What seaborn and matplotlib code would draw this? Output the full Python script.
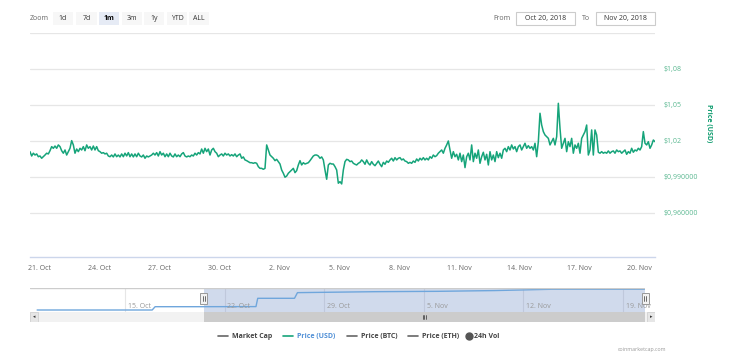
import matplotlib
matplotlib.use("Agg")
import matplotlib.pyplot as plt
import matplotlib.dates as mdates
from matplotlib.lines import Line2D
from matplotlib.patches import Rectangle
import seaborn as sns
import pandas as pd

# Price (USD), one reading every 2 hours from Oct 20 13:00
prices = [
    1.0111, 1.0075, 1.0098, 1.0083, 1.0092, 1.0069, 1.0075, 1.0056, 1.0069, 1.0083, 1.0098, 1.0092,
    1.0119, 1.0153, 1.0139, 1.0158, 1.0139, 1.0167, 1.0153, 1.0119, 1.0098, 1.0125, 1.0083, 1.0111,
    1.0139, 1.0203, 1.0167, 1.0098, 1.0133, 1.0111, 1.0139, 1.0125, 1.0153, 1.0119, 1.0167, 1.0139,
    1.0153, 1.0125, 1.0158, 1.0125, 1.0153, 1.0119, 1.0111, 1.0098, 1.0103, 1.0092, 1.0098, 1.0075,
    1.0069, 1.0083, 1.0067, 1.0092, 1.0069, 1.0083, 1.0067, 1.0092, 1.0069, 1.0098, 1.0075, 1.0103,
    1.0069, 1.0092, 1.0067, 1.0092, 1.0069, 1.0098, 1.0075, 1.0067, 1.0083, 1.0056, 1.0075, 1.0067,
    1.0075, 1.0083, 1.0098, 1.0083, 1.0103, 1.0075, 1.0111, 1.0083, 1.0098, 1.0069, 1.0092, 1.0069,
    1.0098, 1.0075, 1.0067, 1.0092, 1.0069, 1.0083, 1.0069, 1.0092, 1.0103, 1.0075, 1.0067, 1.0075,
    # Oct 28 - Nov 5
    1.0069, 1.0083, 1.0075, 1.0098, 1.0083, 1.0103, 1.0092, 1.0133, 1.0098, 1.0139, 1.0111, 1.0133,
    1.0083, 1.0125, 1.0139, 1.0111, 1.0098, 1.0069, 1.0083, 1.0092, 1.0075, 1.0098, 1.0083, 1.0092,
    1.0075, 1.0086, 1.0075, 1.0092, 1.0069, 1.0083, 1.0092, 1.0056, 1.0067, 1.0042, 1.0036, 1.0028,
    1.0019, 1.0019, 1.0014, 1.0019, 1.0014, 0.9986, 0.9972, 0.9972, 0.9964, 0.9972, 1.0167, 1.0125,
    1.0083, 1.0069, 1.0056, 1.0036, 1.0047, 1.0028, 1.0008, 0.9958, 0.9931, 0.9898, 0.9908, 0.9931,
    0.9944, 0.9958, 0.9972, 0.9936, 0.9953, 1.0000, 1.0036, 1.0000, 1.0019, 1.0008, 1.0014, 1.0019,
    1.0036, 1.0056, 1.0075, 1.0083, 1.0083, 1.0075, 1.0056, 1.0067, 1.0042, 0.9958, 0.9881, 1.0000,
    1.0014, 1.0008, 1.0008, 0.9986, 0.9958, 0.9848, 0.9861, 0.9842, 0.9958, 1.0028, 1.0047,
    # Nov 5 - Nov 13
    1.0042, 1.0028, 1.0033, 1.0014, 1.0006, 1.0000, 1.0014, 1.0022, 1.0042, 1.0028, 1.0006, 1.0042,
    1.0014, 1.0000, 1.0028, 1.0006, 0.9994, 1.0014, 1.0033, 1.0006, 0.9986, 1.0022, 1.0006, 1.0033,
    1.0022, 1.0042, 1.0056, 1.0033, 1.0061, 1.0042, 1.0056, 1.0061, 1.0042, 1.0050, 1.0033, 1.0028,
    1.0014, 1.0022, 1.0014, 1.0033, 1.0022, 1.0050, 1.0033, 1.0056, 1.0042, 1.0061, 1.0042, 1.0056,
    1.0042, 1.0069, 1.0056, 1.0083, 1.0069, 1.0078, 1.0098, 1.0111, 1.0125, 1.0098, 1.0139, 1.0167,
    1.0200, 1.0125, 1.0056, 1.0111, 1.0069, 1.0089, 1.0042, 1.0098, 1.0028, 1.0083, 0.9978, 1.0069,
    1.0098, 1.0042, 1.0167, 1.0028, 1.0098, 1.0056, 1.0125, 1.0014, 1.0069, 1.0106, 1.0042, 1.0089,
    1.0000, 1.0111, 1.0042, 1.0083, 1.0028, 1.0111, 1.0061, 1.0098, 1.0056,
    # Nov 13 - Nov 20
    1.0125, 1.0139, 1.0111, 1.0153, 1.0125, 1.0167, 1.0133, 1.0153, 1.0111, 1.0153, 1.0167, 1.0125,
    1.0153, 1.0181, 1.0139, 1.0161, 1.0139, 1.0153, 1.0125, 1.0181, 1.0069, 1.0194, 1.0431, 1.0333,
    1.0278, 1.0250, 1.0236, 1.0222, 1.0167, 1.0194, 1.0222, 1.0167, 1.0236, 1.0514, 1.0306, 1.0139,
    1.0181, 1.0222, 1.0111, 1.0194, 1.0153, 1.0222, 1.0098, 1.0167, 1.0139, 1.0181, 1.0098, 1.0222,
    1.0250, 1.0278, 1.0333, 1.0083, 1.0125, 1.0292, 1.0083, 1.0292, 1.0250, 1.0106, 1.0098, 1.0111,
    1.0098, 1.0106, 1.0098, 1.0117, 1.0098, 1.0111, 1.0117, 1.0098, 1.0125, 1.0111, 1.0117, 1.0098,
    1.0111, 1.0125, 1.0089, 1.0111, 1.0098, 1.0139, 1.0106, 1.0125, 1.0117, 1.0139, 1.0125, 1.0153,
    1.0278, 1.0181, 1.0167, 1.0194, 1.0139, 1.0167, 1.0208, 1.0194,
]
price_start = "2018-10-20 13:00"

# navigator series (market cap, millions)
nav_dates = ["2018-10-08 20:00", "2018-10-12 00:00", "2018-10-16 22:00", "2018-10-17 03:00",
             "2018-10-20 00:00", "2018-10-24 05:00", "2018-10-24 08:00", "2018-10-26 22:00",
             "2018-10-27 03:00", "2018-11-01 12:00", "2018-11-06 00:00", "2018-11-10 00:00",
             "2018-11-14 00:00", "2018-11-20 12:00"]
nav_values = [130, 130, 130, 147.5, 147.5, 148, 192, 192, 222, 227, 229, 233, 240, 240]

x_tick_dates = ["2018-10-21", "2018-10-24", "2018-10-27", "2018-10-30", "2018-11-02", "2018-11-05",
                "2018-11-08", "2018-11-11", "2018-11-14", "2018-11-17", "2018-11-20"]
x_tick_labels = ["21. Oct", "24. Oct", "27. Oct", "30. Oct", "2. Nov", "5. Nov",
                 "8. Nov", "11. Nov", "14. Nov", "17. Nov", "20. Nov"]
y_ticks = [0.96, 0.99, 1.02, 1.05, 1.08]
y_tick_labels = ["$0,960000", "$0,990000", "$1,02", "$1,05", "$1,08"]

nav_tick_dates = ["2018-10-15", "2018-10-22", "2018-10-29", "2018-11-05", "2018-11-12", "2018-11-19"]
nav_tick_labels = ["15. Oct", "22. Oct", "29. Oct", "5. Nov", "12. Nov", "19. Nov"]
nav_range = ("2018-10-08 08:00", "2018-11-20 13:00")
selected = ("2018-10-20 13:00", "2018-11-20 13:00")

zoom_buttons = ["1d", "7d", "1m", "3m", "1y", "YTD", "ALL"]
legend_items = ["Market Cap", "Price (USD)", "Price (BTC)", "Price (ETH)", "24h Vol"]

W, H = 750, 362
GREEN = "#16a47a"
FS = 5.0


def px(x, y):
    return x / W, 1 - y / H


sns.set_style("white")
plt.rcParams["font.family"] = ["Open Sans", "DejaVu Sans"]

fig = plt.figure(figsize=(W / 100, H / 100), dpi=100)

# ---- main price chart
df = pd.DataFrame({"time": pd.date_range(price_start, periods=len(prices), freq="2h"),
                   "price": prices})
ax = fig.add_axes([30 / W, 1 - 257 / H, 625 / W, 224 / H])
sns.lineplot(data=df, x="time", y="price", ax=ax, color=GREEN, linewidth=1.1)
ax.set_xlim(df["time"].iloc[0], df["time"].iloc[-1])
ax.set_ylim(0.9233, 1.11)
for v in y_ticks + [1.11]:
    ax.axhline(v, color="#e6e6e6", lw=0.9, zorder=0)
ax.yaxis.tick_right()
ax.set_yticks(y_ticks)
ax.set_yticklabels(y_tick_labels)
ax.tick_params(axis="y", length=0, pad=6, labelsize=FS, labelcolor="#5bb891")
ax.set_xticks(mdates.date2num(pd.to_datetime(x_tick_dates)))
ax.set_xticklabels(x_tick_labels)
ax.tick_params(axis="x", length=4, width=0.8, color="#ccd6eb", pad=2,
               labelsize=FS, labelcolor="#666666")
ax.set_xlabel("")
ax.set_ylabel("")
for s in ["top", "right", "left"]:
    ax.spines[s].set_visible(False)
ax.spines["bottom"].set_color("#ccd6eb")
ax.spines["bottom"].set_linewidth(1)
fig.text(*px(708, 123), "Price (USD)", rotation=270, ha="center", va="center",
         fontsize=FS, fontweight="bold", color="#0a9a6c")

# ---- navigator
nav = fig.add_axes([30 / W, 1 - 312 / H, 615 / W, 24 / H])
ndf = pd.DataFrame({"date": pd.to_datetime(nav_dates), "cap": nav_values})
sns.lineplot(data=ndf, x="date", y="cap", ax=nav, color="#6fa6dc", linewidth=1)
nav.set_xlim(pd.to_datetime(nav_range[0]), pd.to_datetime(nav_range[1]))
nav.set_ylim(119.4, 246.6)
for d, lab in zip(pd.to_datetime(nav_tick_dates), nav_tick_labels):
    nav.axvline(d, color="#e6e6e6", lw=0.8, zorder=0)
    nav.text(mdates.date2num(d) + 0.2, 0.1, lab, transform=nav.get_xaxis_transform(),
             fontsize=FS, color="#999999", ha="left", va="bottom")
s0, s1 = pd.to_datetime(selected[0]), pd.to_datetime(selected[1])
nav.axvspan(s0, s1, color=(102 / 255, 133 / 255, 194 / 255), alpha=0.3, lw=0)
nav.set_xticks([])
nav.set_yticks([])
nav.set_xlabel("")
nav.set_ylabel("")
for s in nav.spines.values():
    s.set_visible(False)
nav.axhline(246.6, color="#cccccc", lw=1)


def fig_px(d):
    # x pixel of a date on the navigator axis
    return fig.transFigure.inverted().transform(nav.transData.transform((mdates.date2num(d), 0)))[0] * W


# handles on navigator
for d in (s0, s1):
    hx = fig_px(d)
    fig.add_artist(Rectangle(px(hx - 3.5, 304), 7 / W, 11 / H, transform=fig.transFigure,
                             facecolor="#f2f2f2", edgecolor="#999999", lw=0.7))
    for dx in (-1, 1):
        fig.add_artist(Line2D([(hx + dx) / W] * 2, [1 - 296 / H, 1 - 301 / H],
                              color="#333333", lw=0.5))

# ---- scrollbar
sb = fig.add_axes([30 / W, 1 - 322 / H, 625 / W, 10 / H])
sb.set_xlim(0, 625)
sb.set_ylim(0, 1)
sb.axis("off")
sb.add_patch(Rectangle((0, 0), 625, 1, facecolor="#f2f2f2", lw=0))
x0 = fig_px(s0) - 30
x1 = fig_px(s1) - 30
sb.add_patch(Rectangle((x0, 0), x1 - x0, 1, facecolor="#cccccc", lw=0))
for gx in (-1.5, 0, 1.5):
    sb.plot([(x0 + x1) / 2 + gx] * 2, [0.3, 0.7], color="#333333", lw=0.5)
sb.add_patch(Rectangle((0, 0), 8, 1, facecolor="#e6e6e6", edgecolor="#cccccc", lw=0.5))
sb.add_patch(Rectangle((617, 0), 8, 1, facecolor="#e6e6e6", edgecolor="#cccccc", lw=0.5))
sb.text(4, 0.5, "\u25c2", fontsize=3.5, ha="center", va="center", color="#333333",
        family="DejaVu Sans")
sb.text(621, 0.5, "\u25b8", fontsize=3.5, ha="center", va="center", color="#333333",
        family="DejaVu Sans")

# ---- range selector
fig.text(*px(30, 18.5), "Zoom", fontsize=FS, color="#666666", ha="left", va="center")
btn_x = [53, 76, 99, 122, 144, 167, 189]
btn_w = [20, 21, 20, 20, 20, 20, 20]
for lab, bx, bw in zip(zoom_buttons, btn_x, btn_w):
    sel = lab == "1m"
    fig.add_artist(Rectangle(px(bx, 25), bw / W, 13 / H, transform=fig.transFigure,
                             facecolor="#e6ebf5" if sel else "#f7f7f7", lw=0))
    fig.text(*px(bx + bw / 2, 18.5), lab, fontsize=FS, ha="center", va="center",
             color="#000000" if sel else "#333333", fontweight="bold" if sel else "normal")

fig.text(*px(493, 18.5), "From", fontsize=FS, color="#666666", ha="left", va="center")
fig.text(*px(582, 18.5), "To", fontsize=FS, color="#666666", ha="left", va="center")
for bx, lab in ((516, "Oct 20, 2018"), (596, "Nov 20, 2018")):
    fig.add_artist(Rectangle(px(bx, 25), 59 / W, 13 / H, transform=fig.transFigure,
                             facecolor="white", edgecolor="#cccccc", lw=0.8))
    fig.text(*px(bx + 29.5, 18.5), lab, fontsize=FS, color="#333333", ha="center", va="center")

# ---- legend
leg_x = [218, 283, 347, 408, 469]
for lab, lx in zip(legend_items, leg_x):
    usd = lab == "Price (USD)"
    if lab == "24h Vol":
        fig.add_artist(Line2D([lx / W], [1 - 336 / H], marker="o", markersize=5,
                              color="#555555", lw=0))
        tx = lx + 5
    else:
        fig.add_artist(Line2D([lx / W, (lx + 10) / W], [1 - 336 / H] * 2,
                              color=GREEN if usd else "#666666", lw=1.2))
        tx = lx + 14
    fig.text(*px(tx, 336.5), lab, fontsize=FS, fontweight="bold", ha="left", va="center",
             color="#4f8fd6" if usd else "#444444")

fig.text(*px(642, 349), "coinmarketcap.com", fontsize=3.8, color="#999999", ha="center", va="center")

fig.savefig("out.png", dpi=100)
